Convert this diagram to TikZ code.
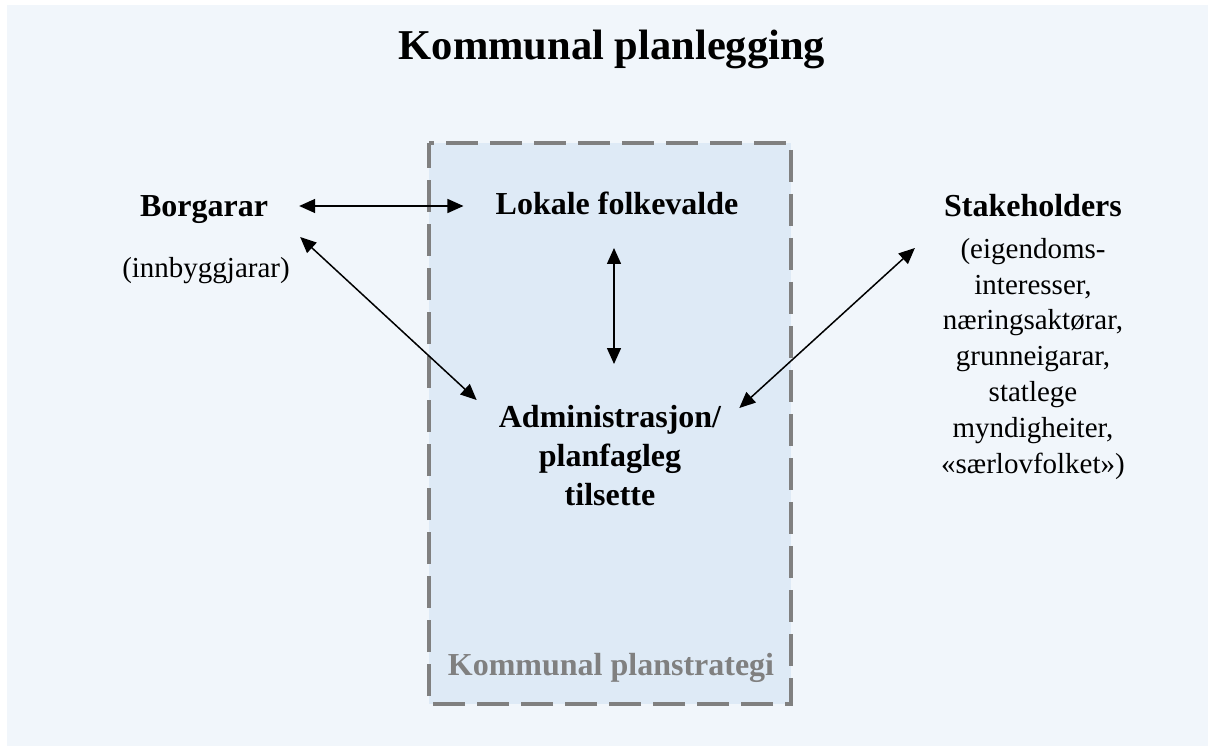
\documentclass[tikz,border=0pt]{standalone}
\usepackage{fontspec}
\setmainfont{Liberation Serif}
\usepackage{xcolor}
\usetikzlibrary{arrows.meta,positioning}
\definecolor{pagefill}{RGB}{241,246,251}
\definecolor{boxfill}{RGB}{222,234,246}
\definecolor{boxline}{RGB}{128,128,128}
\tikzset{
  link/.style={{Triangle[length=16pt,width=14pt]}-{Triangle[length=16pt,width=14pt]},line width=1.5pt},
  boldtext/.style={inner sep=0pt,font=\fontsize{32}{39}\selectfont\bfseries},
  plaintext/.style={inner sep=0pt,font=\fontsize{29}{35.8}\selectfont}
}
\begin{document}
\begin{tikzpicture}[x=1pt,y=-1pt]
       \useasboundingbox (0,0) rectangle (1208,746);
       \fill[pagefill] (7,5) rectangle (1208,746);
       \fill[boxfill] (429,143) rectangle (791,704);
       \draw[boxline,line width=4pt,dash pattern=on 32pt off 12pt,dash phase=27pt] (429,143) -- (791,143) -- (791,704) -- (429,704) -- cycle;
       \node[anchor=base,inner sep=0pt,font=\fontsize{42.5}{50}\selectfont\bfseries] (title) at (612,60) {Kommunal planlegging};
       \node[boldtext,anchor=base] (bor) at (204,217) {Borgarar};
       \node[plaintext,anchor=base] (inn) at (206,277) {(innbyggjarar)};
       \node[boldtext,anchor=base] (lok) at (617,215) {Lokale folkevalde};
       \node[boldtext,anchor=north,align=center] (adm) at (610,405) {Administrasjon/\\planfagleg\\tilsette};
       \node[boldtext,anchor=base] (stk) at (1033,217) {Stakeholders};
       \node[plaintext,anchor=north,align=center] (stklist) at (1033,238) {(eigendoms-\\interesser,\\næringsaktørar,\\grunneigarar,\\statlege\\myndigheiter,\\«særlovfolket»)};
       \node[boldtext,anchor=base,text=boxline] (strat) at (611,675) {Kommunal planstrategi};
       \draw[link] ([xshift=31pt,yshift=11pt]bor.base east) -- ([xshift=-32pt,yshift=9pt]lok.base west);
       \draw[link] ([xshift=-3pt,yshift=-33pt]lok.base) -- ([xshift=4pt,yshift=41pt]adm.north);
       \draw[link] ([xshift=32pt,yshift=-20pt]bor.base east) -- ([xshift=-22pt,yshift=5pt]adm.north west);
       \draw[link] ([xshift=-29pt,yshift=-31pt]stk.base west) -- ([xshift=18pt,yshift=-3pt]adm.north east);
     \end{tikzpicture}
\end{document}
